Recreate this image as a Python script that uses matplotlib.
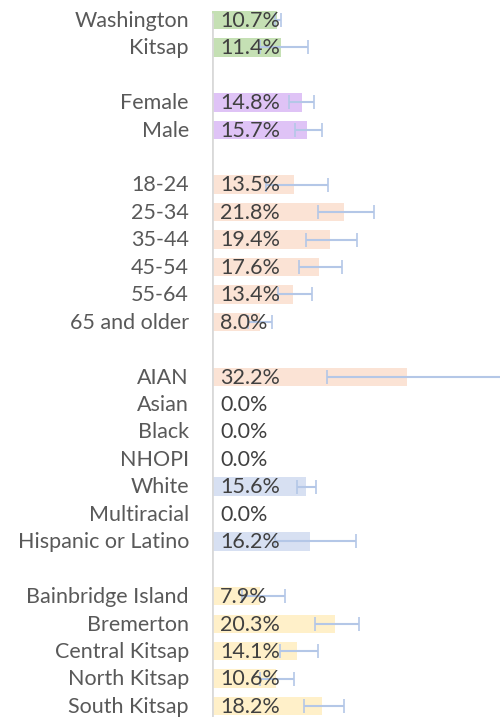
import numpy as np
import matplotlib.pyplot as plt

# rows, top to bottom (None = blank spacer row)
labels = ["Washington", "Kitsap", None,
          "Female", "Male", None,
          "18-24", "25-34", "35-44", "45-54", "55-64", "65 and older", None,
          "AIAN", "Asian", "Black", "NHOPI", "White", "Multiracial",
          "Hispanic or Latino", None,
          "Bainbridge Island", "Bremerton", "Central Kitsap", "North Kitsap",
          "South Kitsap"]
values = [10.7, 11.4, None,
          14.8, 15.7, None,
          13.5, 21.8, 19.4, 17.6, 13.4, 8.0, None,
          32.2, 0.0, 0.0, 0.0, 15.6, 0.0, 16.2, None,
          7.9, 20.3, 14.1, 10.6, 18.2]
ci_low = [10.4, 8.0, None,
          12.8, 13.7, None,
          9.0, 17.5, 15.5, 14.4, 10.9, 6.0, None,
          19.0, None, None, None, 14.0, None, 10.5, None,
          5.0, 17.0, 11.2, 8.0, 15.2]
ci_high = [11.5, 15.9, None,
           16.9, 18.1, None,
           19.1, 26.7, 23.9, 21.4, 16.5, 10.0, None,
           50.0, None, None, None, 17.2, None, 23.7, None,
           12.1, 24.2, 17.5, 13.5, 21.8]
groups = ["state", "state", None,
          "sex", "sex", None,
          "age", "age", "age", "age", "age", "age", None,
          "race", "race", "race", "race", "race2", "race", "race2", None,
          "area", "area", "area", "area", "area"]

colors = {"state": "#c5e0b4", "sex": "#dfc3f6", "age": "#fbe3d5",
          "race": "#fbe3d5", "race2": "#d7e0f2", "area": "#fff0c9"}

fig = plt.figure(figsize=(5, 7.17), dpi=100)
ax = fig.add_axes([211.5 / 500, 0, 1 - 211.5 / 500, 1])

for i, (lab, v) in enumerate(zip(labels, values)):
    if lab is None:
        continue
    ax.barh(i, v, height=0.67, color=colors[groups[i]], zorder=1)
    if ci_low[i] is not None:
        ax.errorbar(v, i, xerr=[[v - ci_low[i]], [ci_high[i] - v]],
                    fmt="none", ecolor="#b4c7e7", elinewidth=1.5,
                    capsize=5, capthick=1.2, zorder=2, clip_on=True)
    ax.text(1.4, i + 0.03, f"{v:.1f}%", va="center", ha="left",
            fontsize=15.5, family="Lato", color="#404040", zorder=3)
    ax.text(-3.7, i + 0.03, lab, va="center", ha="right", fontsize=15.5,
            family="Lato", color="#595959", clip_on=False)

ax.set_xlim(0, 47.4)
ax.set_ylim(25.4, -0.73)
ax.axis("off")
ax.vlines(0, -0.26, 25.4, color="#d9d9d9", lw=2, zorder=4)

fig.savefig("out.png", dpi=100)
